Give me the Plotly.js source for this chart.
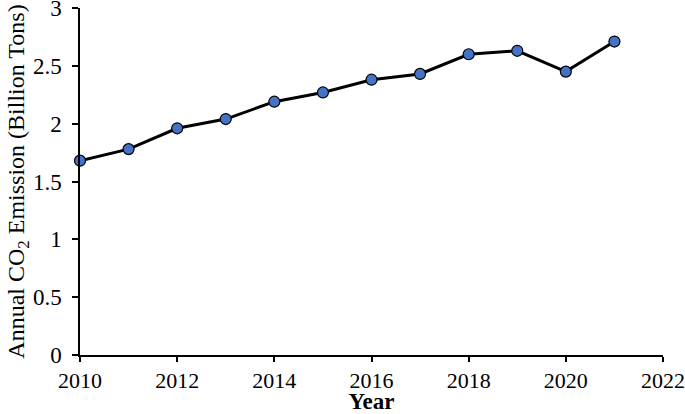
<!DOCTYPE html>
<html>
<head>
<meta charset="utf-8">
<script src="https://cdn.plot.ly/plotly-3.0.1.min.js"></script>
<style>
  html, body { margin: 0; padding: 0; background: #fff; }
  #plot { width: 685px; height: 414px; }
</style>
</head>
<body>
<div id="plot"></div>
<script>
// CO2 emission by year
var years = [2010, 2011, 2012, 2013, 2014, 2015, 2016, 2017, 2018, 2019, 2020, 2021];
var emission = [1.68, 1.78, 1.96, 2.04, 2.19, 2.27, 2.38, 2.43, 2.60, 2.63, 2.45, 2.71];

var trace1 = {
  x: years,
  y: emission,
  mode: "lines+markers",
  type: "scatter",
  line: { color: "#000000", width: 3 },
  marker: {
    color: "#4472C4",
    size: 11,
    line: { color: "#000000", width: 1.2 }
  },
  cliponaxis: false
};

var fontFam = "Liberation Serif";

var layout = {
  width: 685,
  height: 414,
  margin: { l: 80, r: 22, t: 8, b: 59 },
  paper_bgcolor: "#ffffff",
  plot_bgcolor: "#ffffff",
  showlegend: false,
  font: { family: fontFam, size: 23, color: "#000000" },
  xaxis: {
    range: [2010, 2022],
    tickvals: [2010, 2012, 2014, 2016, 2018, 2020, 2022],
    showgrid: false,
    zeroline: false,
    showline: true,
    linecolor: "#000000",
    linewidth: 2,
    ticks: "outside",
    ticklen: 5,
    tickwidth: 1.5,
    tickcolor: "#000000",
    ticklabeloverflow: "allow",
    tickfont: { family: fontFam, size: 22 },
    title: { text: "<b>Year</b>", font: { family: fontFam, size: 23 }, standoff: 5 }
  },
  yaxis: {
    range: [0, 3],
    dtick: 0.5,
    showgrid: false,
    zeroline: false,
    showline: true,
    linecolor: "#000000",
    linewidth: 2,
    ticks: "outside",
    ticklen: 6,
    tickwidth: 1.5,
    tickcolor: "#000000",
    ticklabeloverflow: "allow",
    ticksuffix: " ",
    tickfont: { family: fontFam, size: 23 },
    title: { text: "Annual CO<sub>2</sub> Emission (Billion Tons)", font: { family: fontFam, size: 24 }, standoff: 2 }
  }
};

Plotly.newPlot("plot", [trace1], layout, { displayModeBar: false });
</script>
</body>
</html>
